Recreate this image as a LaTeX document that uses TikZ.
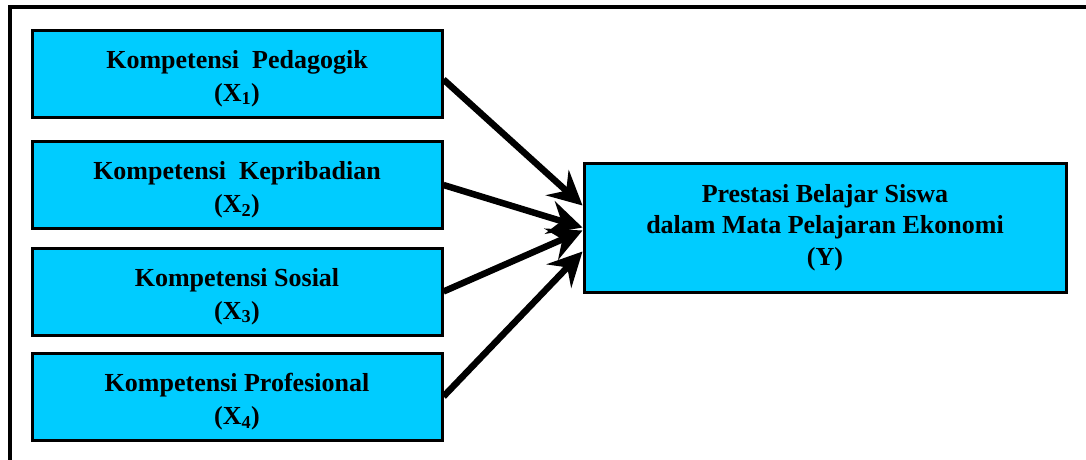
\documentclass[tikz,border=0pt]{standalone}
\usepackage{fontspec}
\setmainfont{Liberation Serif}
\usetikzlibrary{arrows.meta}
\definecolor{boxcyan}{HTML}{00CCFF}
\tikzset{
  varbox/.style={draw=black, line width=3pt, fill=boxcyan, minimum width=410pt, minimum height=87pt, inner sep=0pt},
  vartext/.style={font=\fontsize{26}{33}\selectfont\bfseries, align=center, inner sep=0pt, yshift=-5pt},
  ybox/.style={draw=black, line width=3pt, fill=boxcyan, minimum width=482pt, minimum height=129pt, font=\fontsize{26}{31.5}\selectfont\bfseries, align=center, inner sep=0pt},
  link/.style={line width=6.5pt, -{Stealth[length=34pt,width=34pt,inset=12pt]}},
  frameline/.style={line width=4pt}
}
\begin{document}
\begin{tikzpicture}[x=1pt,y=-1pt]
\useasboundingbox (0,0) rectangle (1086,459);
\coordinate (ftl) at (10,7);
\coordinate (ftr) at (1090,7);
\coordinate (fbl) at (10,465);
\draw[frameline] (ftr) -- (ftl) -- (fbl);
\node[varbox, label={[vartext, name=x1t]center:Kompetensi~ Pedagogik\\(X\textsubscript{1})}] (x1) at (237,73.5) {};
\node[varbox, label={[vartext, name=x2t]center:Kompetensi~ Kepribadian\\(X\textsubscript{2})}] (x2) at (237,185) {};
\node[varbox, label={[vartext, name=x3t]center:Kompetensi Sosial\\(X\textsubscript{3})}] (x3) at (237,291.5) {};
\node[varbox, label={[vartext, name=x4t]center:Kompetensi Profesional\\(X\textsubscript{4})}] (x4) at (237,396.5) {};
\node[ybox] (y) at (825,227.5) {Prestasi Belajar Siswa\\dalam Mata Pelajaran Ekonomi\\(Y)};
\coordinate (t1) at ([yshift=22pt]y.west);
\coordinate (t2) at ([yshift=0pt]y.west);
\coordinate (t3) at ([yshift=-3pt]y.west);
\coordinate (t4) at ([yshift=-24pt]y.west);
\draw[link] ([yshift=-6pt]x1.east) -- (t1);
\draw[link] (x2.east) -- (t2);
\draw[link] (x3.east) -- (t3);
\draw[link] (x4.east) -- (t4);
\end{tikzpicture}
\end{document}
